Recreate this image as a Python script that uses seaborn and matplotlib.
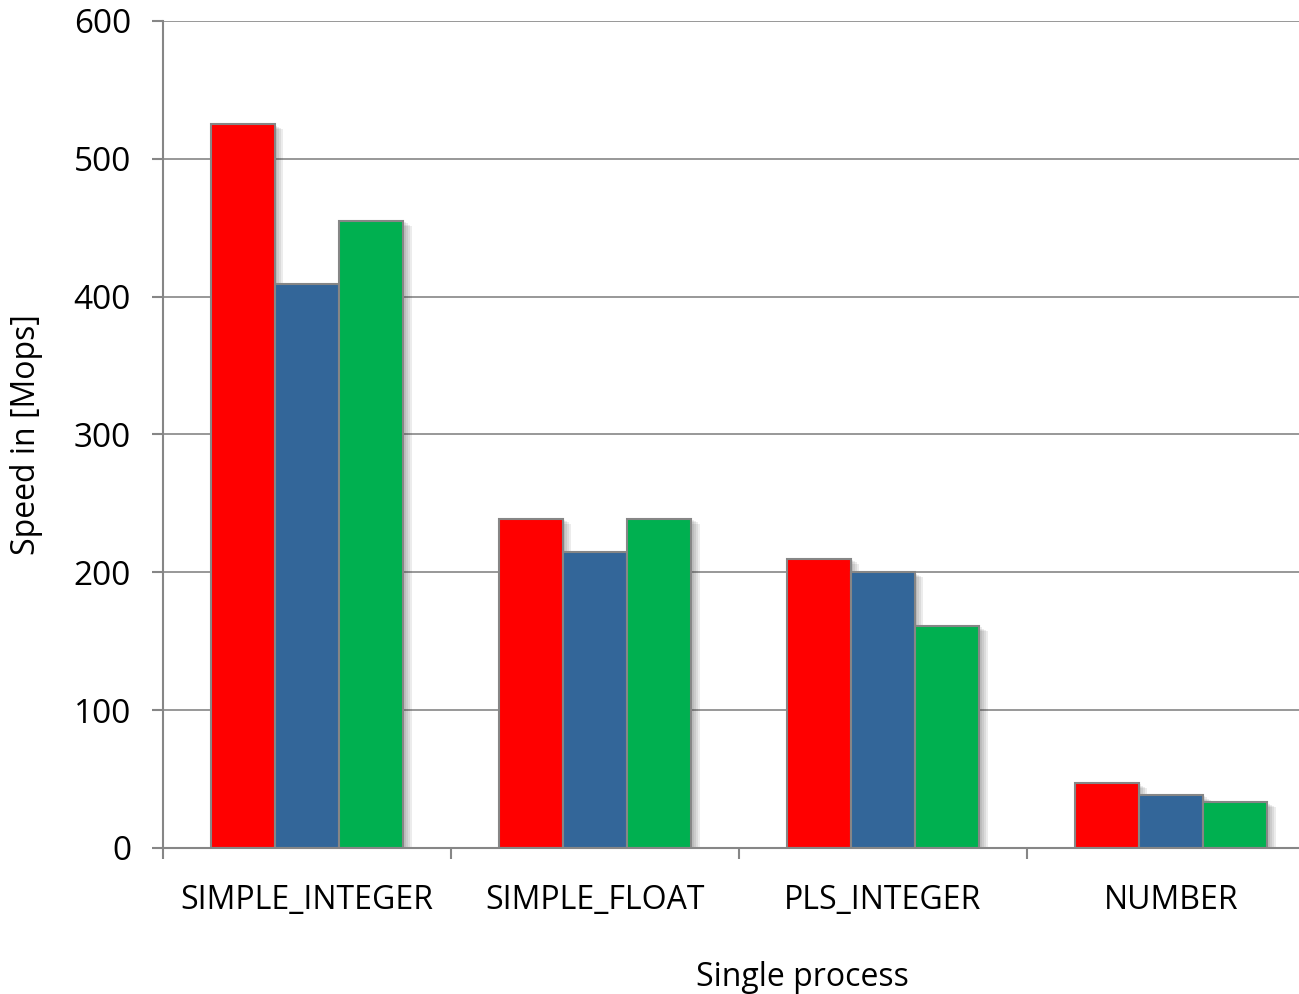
import numpy as np
import pandas as pd
import seaborn as sns
import matplotlib.pyplot as plt
import matplotlib.patheffects as pe

# data
categories = ["SIMPLE_INTEGER", "SIMPLE_FLOAT", "PLS_INTEGER", "NUMBER"]
series_names = ["Run 1", "Run 2", "Run 3"]
run1 = [525, 239, 210, 47]
run2 = [409, 215, 200, 38.5]
run3 = [455, 239, 161, 33]
colors = ["#FF0000", "#336699", "#00B050"]

df = pd.DataFrame({
    "category": categories * 3,
    "series": np.repeat(series_names, len(categories)),
    "speed": run1 + run2 + run3,
})

sns.set_theme(style="white")
plt.rcParams["font.family"] = ["Open Sans", "DejaVu Sans"]

fig = plt.figure(figsize=(12.99, 9.94), dpi=100)
# plot area runs a little past the right edge of the picture, like the original
ax = fig.add_axes([0.1255, 0.1469, 0.8868, 0.8320])

grid_col = "#868686"
ax.set_axisbelow(True)
ax.yaxis.grid(True, color=grid_col, linewidth=1.2)

sns.barplot(data=df, x="category", y="speed", hue="series", order=categories,
            hue_order=series_names, palette=colors, width=0.67, saturation=1,
            edgecolor=grid_col, linewidth=1.5, legend=False, ax=ax)

# soft drop shadow: a few faint stacked shadows
shadow = [pe.SimplePatchShadow(offset=(k, -k * 0.6), alpha=0.09, shadow_rgbFace="#333333")
          for k in (1.5, 3, 4.5, 6)]
for bar in ax.patches:
    bar.set_path_effects(shadow + [pe.Normal()])

ax.set_xlim(-0.5, 3.5)
ax.set_ylim(0, 600)
ax.set_yticks(np.arange(0, 601, 100))

for s in ["top", "right"]:
    ax.spines[s].set_visible(False)
for s in ["left", "bottom"]:
    ax.spines[s].set_color(grid_col)
    ax.spines[s].set_linewidth(1.5)

ax.tick_params(axis="y", which="major", left=True, length=8, width=1.5, color=grid_col,
               labelsize=24, pad=15)
ax.tick_params(axis="x", which="major", bottom=False, labelsize=23, pad=20)
ax.set_xticks([-0.5, 0.5, 1.5, 2.5], minor=True)
ax.tick_params(axis="x", which="minor", bottom=True, length=8, width=1.5, color=grid_col)

for lab in ax.get_yticklabels() + ax.get_xticklabels():
    lab.set_color("black")

ax.set_xlabel("Single process", fontsize=23, color="black")
ax.set_ylabel("Speed in [Mops]", fontsize=23, color="black")
ax.xaxis.set_label_coords(0.555, -0.137)
ax.yaxis.set_label_coords(-0.104, 0.5)

fig.savefig("out.png", dpi=100)
